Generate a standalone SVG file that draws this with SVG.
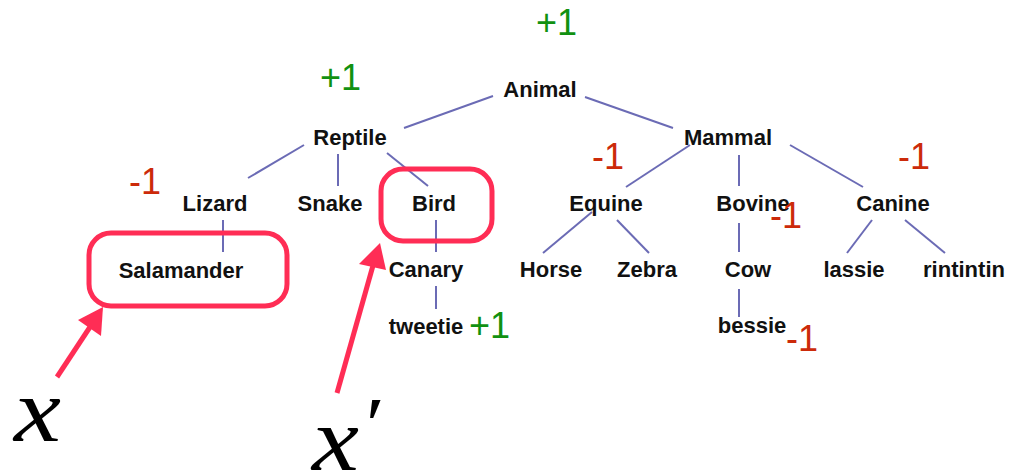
<svg xmlns="http://www.w3.org/2000/svg" width="1015" height="476" viewBox="0 0 1015 476">
<style>
.n{font-family:"Liberation Sans",Arial,sans-serif;font-weight:bold;font-size:22px;fill:#111;text-anchor:middle}
.e line{stroke:#6b6bb5;stroke-width:2}
.p{font-family:"Liberation Sans",Arial,sans-serif;font-size:36px;fill:#119111}
.m{font-family:"Liberation Sans",Arial,sans-serif;font-size:36px;fill:#cc2a0a}
.box{fill:none;stroke:#ff2d55;stroke-width:5}
.arr{stroke:#ff2d55;stroke-width:5;fill:none}
.head{fill:#ff2d55}
.math{font-family:"Liberation Serif","Times New Roman",serif;font-style:italic;font-size:92px;fill:#000}
</style>
<rect width="1015" height="476" fill="#fff"/>
<g id="connectors" class="e">
<line x1="493" y1="96" x2="404" y2="128"/>
<line x1="585" y1="97" x2="673" y2="128"/>
<line x1="304" y1="145" x2="248" y2="178"/>
<line x1="338" y1="154" x2="338" y2="186"/>
<line x1="387" y1="153" x2="428" y2="186"/>
<line x1="223" y1="220" x2="223" y2="252"/>
<line x1="436" y1="220" x2="436" y2="252"/>
<line x1="436" y1="286" x2="436" y2="309"/>
<line x1="690" y1="145" x2="626" y2="187"/>
<line x1="739" y1="155" x2="739" y2="186"/>
<line x1="790" y1="145" x2="863" y2="187"/>
<line x1="592" y1="212" x2="543" y2="253"/>
<line x1="617" y1="220" x2="649" y2="253"/>
<line x1="739" y1="223" x2="739" y2="252"/>
<line x1="739" y1="289" x2="739" y2="317"/>
<line x1="872" y1="220" x2="847" y2="253"/>
<line x1="905" y1="220" x2="945" y2="253"/>
</g>
<g id="n-animal"><text class="n" x="540" y="97">Animal</text></g>
<g id="n-reptile"><text class="n" x="350" y="145">Reptile</text></g>
<g id="n-mammal"><text class="n" x="728" y="145">Mammal</text></g>
<g id="n-lizard"><text class="n" x="215" y="211">Lizard</text></g>
<g id="n-snake"><text class="n" x="330" y="211">Snake</text></g>
<g id="n-bird"><text class="n" x="434" y="211">Bird</text></g>
<g id="n-equine"><text class="n" x="606" y="211">Equine</text></g>
<g id="n-bovine"><text class="n" x="753" y="211">Bovine</text></g>
<g id="n-canine"><text class="n" x="893" y="211">Canine</text></g>
<g id="n-salamander"><text class="n" x="181" y="278">Salamander</text></g>
<g id="n-canary"><text class="n" x="426" y="277">Canary</text></g>
<g id="n-horse"><text class="n" x="551" y="277">Horse</text></g>
<g id="n-zebra"><text class="n" x="647" y="277">Zebra</text></g>
<g id="n-cow"><text class="n" x="748" y="277">Cow</text></g>
<g id="n-lassie"><text class="n" x="854" y="277">lassie</text></g>
<g id="n-rintintin"><text class="n" x="964" y="277">rintintin</text></g>
<g id="n-tweetie"><text class="n" x="426" y="334">tweetie</text></g>
<g id="n-bessie"><text class="n" x="752" y="333">bessie</text></g>
<g id="scores">
<text class="p" x="536" y="35">+1</text>
<text class="p" x="320" y="90">+1</text>
<text class="m" x="129" y="194">-1</text>
<text class="m" x="592" y="169">-1</text>
<text class="m" x="898" y="169">-1</text>
<text class="m" x="770" y="228">-1</text>
<text class="m" x="786" y="351">-1</text>
<text class="p" x="469" y="338">+1</text>
</g>
<g id="highlight-x">
<rect class="box" x="89" y="233" width="198" height="73" rx="22"/>
<line class="arr" x1="57" y1="377" x2="90" y2="327"/>
<polygon class="head" points="103,307 78,320 101,336"/>
<text class="math" transform="translate(14,441) scale(1.15,1)">x</text>
</g>
<g id="highlight-xprime">
<rect class="box" x="381" y="169" width="111" height="72" rx="22"/>
<line class="arr" x1="337" y1="393" x2="374" y2="262"/>
<polygon class="head" points="380,243 359,264 386,270"/>
<text class="math" transform="translate(312,470) scale(1.15,1)">x<tspan font-style="normal" font-size="76" dx="6" dy="-20">′</tspan></text>
</g>
</svg>
